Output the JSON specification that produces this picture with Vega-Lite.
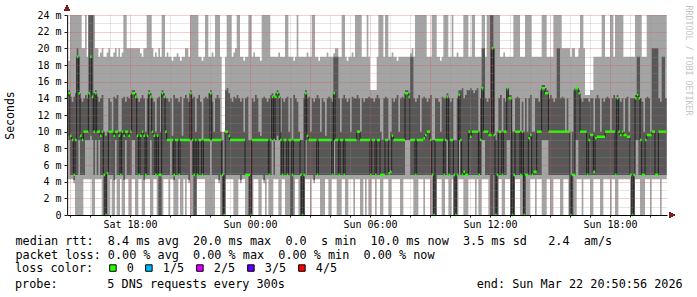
{
"$schema": "https://vega.github.io/schema/vega-lite/v6.json",
"width": 600,
"height": 200,
"autosize": {"type": "none"},
"padding": {"left": 67, "top": 15, "right": 30, "bottom": 82},
"background": "#ffffff",
"config": {
  "view": {"stroke": null},
  "axis": {"labelFont": "DejaVu Sans Mono", "titleFont": "DejaVu Sans Mono", "labelColor": "#000000", "titleColor": "#000000", "tickColor": "#1f1f1f", "domainColor": "#1f1f1f"}
},
"title": {
  "text": "probe:\u00a0\u00a0\u00a0\u00a0\u00a0\u00a0\u00a05 DNS requests every 300s\u00a0\u00a0\u00a0\u00a0\u00a0\u00a0\u00a0\u00a0\u00a0\u00a0\u00a0\u00a0\u00a0\u00a0\u00a0\u00a0\u00a0\u00a0\u00a0\u00a0\u00a0\u00a0\u00a0\u00a0\u00a0\u00a0\u00a0end: Sun Mar 22 20:50:56 2026",
  "orient": "bottom", "anchor": "start", "frame": "group", "dx": -52, "offset": 4,
  "font": "DejaVu Sans Mono", "fontSize": 11.8, "fontWeight": "normal", "color": "#000000", "baseline": "top"
},
"data": {"values": [
{"t":"2026-03-21T14:50Z","a":0,"b":9.5,"m":14.2,"d":14.6,"e":24},
{"t":"2026-03-21T14:55Z","a":4.3,"b":9,"m":14.6,"d":15,"e":18.5},
{"t":"2026-03-21T15:00Z","a":4.3,"b":4.8,"m":9.5,"d":14.2,"e":24},
{"t":"2026-03-21T15:05Z","a":4.3,"b":4.8,"m":9,"d":13.6,"e":24},
{"t":"2026-03-21T15:10Z","a":3.8,"b":4.2,"m":4.8,"d":14.2,"e":24},
{"t":"2026-03-21T15:15Z","a":0,"b":4.8,"m":9,"d":14.6,"e":24},
{"t":"2026-03-21T15:20Z","a":0,"b":4.8,"m":19,"d":20,"e":24},
{"t":"2026-03-21T15:25Z","a":0,"b":9,"m":14.6,"d":19,"e":24},
{"t":"2026-03-21T15:30Z","a":0,"b":4.8,"m":9.5,"d":14,"e":24},
{"t":"2026-03-21T15:35Z","a":0,"b":4.8,"m":9,"d":13.6,"e":20},
{"t":"2026-03-21T15:40Z","a":4.3,"b":4.8,"m":10,"d":14,"e":20},
{"t":"2026-03-21T15:45Z","a":4.3,"b":9,"m":10,"d":14.4,"e":24},
{"t":"2026-03-21T15:50Z","a":4.3,"b":9,"m":10,"d":14,"e":19},
{"t":"2026-03-21T15:55Z","a":4.3,"b":9,"m":14.6,"d":24,"e":24},
{"t":"2026-03-21T16:00Z","a":4.3,"b":9.5,"m":19,"d":24,"e":24},
{"t":"2026-03-21T16:05Z","a":0,"b":9,"m":14.2,"d":24,"e":24},
{"t":"2026-03-21T16:10Z","a":0,"b":4.8,"m":10,"d":14.6,"e":24},
{"t":"2026-03-21T16:15Z","a":4.3,"b":9,"m":14.6,"d":15,"e":20},
{"t":"2026-03-21T16:20Z","a":4.3,"b":4.8,"m":10,"d":14.2,"e":20},
{"t":"2026-03-21T16:25Z","a":4.3,"b":9,"m":10,"d":13.6,"e":19},
{"t":"2026-03-21T16:30Z","a":4.3,"b":4.8,"m":9.5,"d":14,"e":19.5},
{"t":"2026-03-21T16:35Z","a":0,"b":4.8,"m":10,"d":14.4,"e":20},
{"t":"2026-03-21T16:40Z","a":0,"b":0,"m":4.8,"d":10,"e":19},
{"t":"2026-03-21T16:45Z","a":0,"b":0,"m":0,"d":9.5,"e":19},
{"t":"2026-03-21T16:50Z","a":0,"b":4.8,"m":5,"d":10,"e":19.5},
{"t":"2026-03-21T16:55Z","a":0,"b":4.8,"m":10,"d":14,"e":20},
{"t":"2026-03-21T17:00Z","a":4.3,"b":4.8,"m":10,"d":13.6,"e":19},
{"t":"2026-03-21T17:05Z","a":0,"b":4.8,"m":10,"d":10,"e":19},
{"t":"2026-03-21T17:10Z","a":0,"b":4.2,"m":9.5,"d":14.2,"e":19.5},
{"t":"2026-03-21T17:15Z","a":4.3,"b":9,"m":10,"d":14,"e":20},
{"t":"2026-03-21T17:20Z","a":0,"b":4.8,"m":10,"d":14.4,"e":19},
{"t":"2026-03-21T17:25Z","a":0,"b":4.8,"m":9.5,"d":10,"e":20},
{"t":"2026-03-21T17:30Z","a":4.3,"b":4.8,"m":4.8,"d":10,"e":19},
{"t":"2026-03-21T17:35Z","a":0,"b":4.8,"m":10,"d":14,"e":19.5},
{"t":"2026-03-21T17:40Z","a":0,"b":4.2,"m":9.5,"d":14.2,"e":24},
{"t":"2026-03-21T17:45Z","a":4.3,"b":9,"m":10,"d":13.6,"e":24},
{"t":"2026-03-21T17:50Z","a":4.3,"b":4.8,"m":10,"d":14.2,"e":20},
{"t":"2026-03-21T17:55Z","a":0,"b":4.8,"m":9.5,"d":14,"e":20},
{"t":"2026-03-21T18:00Z","a":0,"b":4.8,"m":10,"d":14.4,"e":20},
{"t":"2026-03-21T18:05Z","a":4.3,"b":9,"m":14.6,"d":15,"e":20},
{"t":"2026-03-21T18:10Z","a":4.3,"b":9,"m":14.6,"d":15,"e":20},
{"t":"2026-03-21T18:15Z","a":0,"b":4.8,"m":14.2,"d":14.6,"e":20},
{"t":"2026-03-21T18:20Z","a":0,"b":4.8,"m":9.5,"d":14,"e":20},
{"t":"2026-03-21T18:25Z","a":4.3,"b":4.8,"m":4.8,"d":13.6,"e":20},
{"t":"2026-03-21T18:30Z","a":4.3,"b":4.8,"m":9.5,"d":14,"e":19.4},
{"t":"2026-03-21T18:35Z","a":0,"b":4.8,"m":10,"d":14.4,"e":19},
{"t":"2026-03-21T18:40Z","a":0,"b":4.2,"m":9.5,"d":14,"e":20},
{"t":"2026-03-21T18:45Z","a":4.3,"b":4.8,"m":4.8,"d":10,"e":20},
{"t":"2026-03-21T18:50Z","a":4.3,"b":4.8,"m":9.5,"d":14,"e":24},
{"t":"2026-03-21T18:55Z","a":4.3,"b":4.8,"m":14.6,"d":15,"e":24},
{"t":"2026-03-21T19:00Z","a":0,"b":9,"m":14.2,"d":14.6,"e":24},
{"t":"2026-03-21T19:05Z","a":0,"b":4.8,"m":10,"d":14,"e":20},
{"t":"2026-03-21T19:10Z","a":4.3,"b":4.8,"m":9.5,"d":13.6,"e":19},
{"t":"2026-03-21T19:15Z","a":4.3,"b":4.8,"m":4.8,"d":10,"e":19.5},
{"t":"2026-03-21T19:20Z","a":0,"b":4.8,"m":9.5,"d":14,"e":19},
{"t":"2026-03-21T19:25Z","a":0,"b":0,"m":4.8,"d":14.2,"e":20},
{"t":"2026-03-21T19:30Z","a":0,"b":0,"m":4.8,"d":10,"e":19},
{"t":"2026-03-21T19:35Z","a":0,"b":4.8,"m":14.6,"d":15,"e":24},
{"t":"2026-03-21T19:40Z","a":4.3,"b":4.8,"m":14.2,"d":14.6,"e":24},
{"t":"2026-03-21T19:45Z","a":4.3,"b":4.8,"m":10,"d":14,"e":19},
{"t":"2026-03-21T19:50Z","a":4.3,"b":4.8,"m":9,"d":14,"e":19.5},
{"t":"2026-03-21T19:55Z","a":0,"b":4.8,"m":9,"d":13.6,"e":19},
{"t":"2026-03-21T20:00Z","a":4.3,"b":9,"m":9,"d":14,"e":19},
{"t":"2026-03-21T20:05Z","a":4.3,"b":4.8,"m":9,"d":9.5,"e":18.5},
{"t":"2026-03-21T20:10Z","a":0,"b":4.2,"m":4.8,"d":14.4,"e":19},
{"t":"2026-03-21T20:15Z","a":0,"b":4.8,"m":9,"d":14,"e":19},
{"t":"2026-03-21T20:20Z","a":0,"b":4.8,"m":9,"d":14,"e":19.4},
{"t":"2026-03-21T20:25Z","a":4.3,"b":4.8,"m":4.8,"d":13.6,"e":19},
{"t":"2026-03-21T20:30Z","a":0,"b":4.8,"m":9,"d":14.2,"e":18.5},
{"t":"2026-03-21T20:35Z","a":0,"b":4.8,"m":9,"d":9.5,"e":19},
{"t":"2026-03-21T20:40Z","a":4.3,"b":4.8,"m":9,"d":14,"e":19},
{"t":"2026-03-21T20:45Z","a":0,"b":4.8,"m":9,"d":14.4,"e":20},
{"t":"2026-03-21T20:50Z","a":4.3,"b":4.8,"m":9,"d":14,"e":20},
{"t":"2026-03-21T20:55Z","a":3.8,"b":4.2,"m":9,"d":13.6,"e":19},
{"t":"2026-03-21T21:00Z","a":0,"b":9,"m":14.6,"d":15,"e":24},
{"t":"2026-03-21T21:05Z","a":0,"b":4.8,"m":9,"d":14,"e":24},
{"t":"2026-03-21T21:10Z","a":0,"b":0,"m":4.8,"d":14.2,"e":24},
{"t":"2026-03-21T21:15Z","a":0,"b":0,"m":9,"d":10,"e":24},
{"t":"2026-03-21T21:20Z","a":4.3,"b":4.8,"m":4.8,"d":14,"e":24},
{"t":"2026-03-21T21:25Z","a":4.3,"b":4.8,"m":9,"d":14.4,"e":19},
{"t":"2026-03-21T21:30Z","a":4.3,"b":4.8,"m":9,"d":13.6,"e":19},
{"t":"2026-03-21T21:35Z","a":4.3,"b":4.8,"m":4.8,"d":9,"e":18.5},
{"t":"2026-03-21T21:40Z","a":4.3,"b":4.8,"m":9,"d":14,"e":19},
{"t":"2026-03-21T21:45Z","a":0,"b":4.8,"m":9,"d":14.2,"e":24},
{"t":"2026-03-21T21:50Z","a":0,"b":4.8,"m":9,"d":14,"e":24},
{"t":"2026-03-21T21:55Z","a":0,"b":4.8,"m":9,"d":14.6,"e":19},
{"t":"2026-03-21T22:00Z","a":0,"b":9,"m":14.6,"d":15,"e":19},
{"t":"2026-03-21T22:05Z","a":0,"b":4.8,"m":9,"d":13.6,"e":19.5},
{"t":"2026-03-21T22:10Z","a":0,"b":4.8,"m":9,"d":10,"e":19},
{"t":"2026-03-21T22:15Z","a":4.3,"b":4.8,"m":9,"d":14,"e":24},
{"t":"2026-03-21T22:20Z","a":4.3,"b":4.8,"m":9,"d":14.4,"e":24},
{"t":"2026-03-21T22:25Z","a":3.8,"b":4.2,"m":9,"d":14,"e":24},
{"t":"2026-03-21T22:30Z","a":0,"b":4.8,"m":9,"d":10,"e":19},
{"t":"2026-03-21T22:35Z","a":0,"b":0,"m":4.8,"d":9,"e":10},
{"t":"2026-03-21T22:40Z","a":0,"b":0,"m":0,"d":4.8,"e":10},
{"t":"2026-03-21T22:45Z","a":4.3,"b":4.8,"m":10,"d":15,"e":19},
{"t":"2026-03-21T22:50Z","a":4.3,"b":4.8,"m":10,"d":15.2,"e":24},
{"t":"2026-03-21T22:55Z","a":4.3,"b":4.8,"m":9.5,"d":14.6,"e":24},
{"t":"2026-03-21T23:00Z","a":4.3,"b":4.8,"m":9,"d":14,"e":24},
{"t":"2026-03-21T23:05Z","a":4.3,"b":4.8,"m":9,"d":13.6,"e":19},
{"t":"2026-03-21T23:10Z","a":0,"b":4.8,"m":9,"d":14.2,"e":19.5},
{"t":"2026-03-21T23:15Z","a":0,"b":4.8,"m":9,"d":14,"e":20},
{"t":"2026-03-21T23:20Z","a":0,"b":4.8,"m":9,"d":14.4,"e":24},
{"t":"2026-03-21T23:25Z","a":4.3,"b":4.8,"m":9,"d":14,"e":24},
{"t":"2026-03-21T23:30Z","a":3.8,"b":4.2,"m":9,"d":13.6,"e":19},
{"t":"2026-03-21T23:35Z","a":4.3,"b":4.8,"m":9,"d":14,"e":19},
{"t":"2026-03-21T23:40Z","a":4.3,"b":4.8,"m":9,"d":10,"e":18.5},
{"t":"2026-03-21T23:45Z","a":0,"b":4.8,"m":4.8,"d":14,"e":19},
{"t":"2026-03-21T23:50Z","a":0,"b":4.8,"m":4.8,"d":14.2,"e":19},
{"t":"2026-03-21T23:55Z","a":0,"b":0,"m":4.8,"d":9,"e":24},
{"t":"2026-03-22T00:00Z","a":0,"b":0,"m":0,"d":9,"e":24},
{"t":"2026-03-22T00:05Z","a":0,"b":4.8,"m":9,"d":14,"e":19},
{"t":"2026-03-22T00:10Z","a":4.3,"b":4.8,"m":9,"d":13.6,"e":19.5},
{"t":"2026-03-22T00:15Z","a":4.3,"b":4.8,"m":9,"d":14.4,"e":19},
{"t":"2026-03-22T00:20Z","a":4.3,"b":4.8,"m":9,"d":14,"e":19},
{"t":"2026-03-22T00:25Z","a":0,"b":4.8,"m":9,"d":10,"e":19},
{"t":"2026-03-22T00:30Z","a":0,"b":4.8,"m":9,"d":9.5,"e":18.5},
{"t":"2026-03-22T00:35Z","a":4.3,"b":4.8,"m":9,"d":14,"e":24},
{"t":"2026-03-22T00:40Z","a":3.8,"b":4.2,"m":9,"d":14.2,"e":24},
{"t":"2026-03-22T00:45Z","a":0,"b":4.8,"m":9,"d":14,"e":24},
{"t":"2026-03-22T00:50Z","a":4.3,"b":4.8,"m":9,"d":13.6,"e":24},
{"t":"2026-03-22T00:55Z","a":0,"b":4.8,"m":4.8,"d":14,"e":24},
{"t":"2026-03-22T01:00Z","a":0,"b":4.8,"m":9,"d":14.4,"e":19},
{"t":"2026-03-22T01:05Z","a":0,"b":9,"m":14.2,"d":14.6,"e":19},
{"t":"2026-03-22T01:10Z","a":4.3,"b":4.8,"m":9,"d":14,"e":19},
{"t":"2026-03-22T01:15Z","a":4.3,"b":9,"m":14.2,"d":14.6,"e":19},
{"t":"2026-03-22T01:20Z","a":4.3,"b":9.5,"m":14.6,"d":15,"e":19},
{"t":"2026-03-22T01:25Z","a":0,"b":9,"m":14.2,"d":14.6,"e":19.5},
{"t":"2026-03-22T01:30Z","a":0,"b":4.8,"m":9,"d":10,"e":19},
{"t":"2026-03-22T01:35Z","a":4.3,"b":4.8,"m":4.8,"d":14,"e":19},
{"t":"2026-03-22T01:40Z","a":4.3,"b":4.8,"m":9,"d":13.6,"e":19},
{"t":"2026-03-22T01:45Z","a":0,"b":4.8,"m":9,"d":14,"e":24},
{"t":"2026-03-22T01:50Z","a":0,"b":4.8,"m":4.8,"d":14.2,"e":24},
{"t":"2026-03-22T01:55Z","a":0,"b":4.8,"m":9,"d":10,"e":19},
{"t":"2026-03-22T02:00Z","a":0,"b":0,"m":9,"d":14,"e":19},
{"t":"2026-03-22T02:05Z","a":0,"b":0,"m":4.8,"d":9,"e":19},
{"t":"2026-03-22T02:10Z","a":0,"b":4.8,"m":9,"d":14.4,"e":18.5},
{"t":"2026-03-22T02:15Z","a":4.3,"b":4.8,"m":9,"d":14,"e":19},
{"t":"2026-03-22T02:20Z","a":4.3,"b":4.8,"m":9,"d":13.6,"e":24},
{"t":"2026-03-22T02:25Z","a":0,"b":4.8,"m":9,"d":10,"e":19},
{"t":"2026-03-22T02:30Z","a":0,"b":0,"m":4.8,"d":9,"e":19},
{"t":"2026-03-22T02:35Z","a":0,"b":0,"m":0,"d":9,"e":19},
{"t":"2026-03-22T02:40Z","a":0,"b":0,"m":4.8,"d":14,"e":19},
{"t":"2026-03-22T02:45Z","a":4.3,"b":9,"m":14.6,"d":15,"e":19},
{"t":"2026-03-22T02:50Z","a":4.3,"b":4.8,"m":9.5,"d":14,"e":19.5},
{"t":"2026-03-22T02:55Z","a":4.3,"b":4.8,"m":9,"d":14.2,"e":19},
{"t":"2026-03-22T03:00Z","a":0,"b":4.8,"m":9,"d":10,"e":19},
{"t":"2026-03-22T03:05Z","a":4.3,"b":4.8,"m":9,"d":14,"e":24},
{"t":"2026-03-22T03:10Z","a":3.8,"b":4.2,"m":9,"d":13.6,"e":24},
{"t":"2026-03-22T03:15Z","a":4.3,"b":4.8,"m":9,"d":14,"e":19},
{"t":"2026-03-22T03:20Z","a":4.3,"b":4.8,"m":4.8,"d":14.4,"e":19},
{"t":"2026-03-22T03:25Z","a":4.3,"b":4.8,"m":9,"d":14,"e":18.5},
{"t":"2026-03-22T03:30Z","a":0,"b":4.8,"m":9,"d":10,"e":19},
{"t":"2026-03-22T03:35Z","a":0,"b":4.8,"m":9,"d":14,"e":19},
{"t":"2026-03-22T03:40Z","a":0,"b":4.8,"m":9,"d":13.6,"e":19},
{"t":"2026-03-22T03:45Z","a":4.3,"b":4.8,"m":9,"d":9.5,"e":19},
{"t":"2026-03-22T03:50Z","a":4.3,"b":4.8,"m":9,"d":14,"e":19.5},
{"t":"2026-03-22T03:55Z","a":0,"b":4.8,"m":9,"d":14.2,"e":19},
{"t":"2026-03-22T04:00Z","a":0,"b":4.8,"m":9,"d":14,"e":19},
{"t":"2026-03-22T04:05Z","a":4.3,"b":4.8,"m":4.8,"d":13.6,"e":19},
{"t":"2026-03-22T04:10Z","a":4.3,"b":9,"m":14.6,"d":19,"e":19.4},
{"t":"2026-03-22T04:15Z","a":4.3,"b":4.8,"m":9,"d":19,"e":20},
{"t":"2026-03-22T04:20Z","a":0,"b":4.8,"m":9,"d":19,"e":20},
{"t":"2026-03-22T04:25Z","a":0,"b":4.8,"m":4.8,"d":14,"e":19},
{"t":"2026-03-22T04:30Z","a":0,"b":4.8,"m":9,"d":10,"e":19},
{"t":"2026-03-22T04:35Z","a":4.3,"b":4.8,"m":9,"d":14,"e":24},
{"t":"2026-03-22T04:40Z","a":4.3,"b":4.8,"m":4.8,"d":14.4,"e":24},
{"t":"2026-03-22T04:45Z","a":0,"b":4.8,"m":9,"d":14,"e":19},
{"t":"2026-03-22T04:50Z","a":0,"b":4.8,"m":9,"d":13.6,"e":18.5},
{"t":"2026-03-22T04:55Z","a":4.3,"b":4.8,"m":9,"d":14,"e":19},
{"t":"2026-03-22T05:00Z","a":4.3,"b":4.8,"m":9,"d":10,"e":19},
{"t":"2026-03-22T05:05Z","a":4.3,"b":4.8,"m":9,"d":14.2,"e":19.5},
{"t":"2026-03-22T05:10Z","a":0,"b":4.8,"m":9,"d":14,"e":19},
{"t":"2026-03-22T05:15Z","a":4.3,"b":4.8,"m":9,"d":14,"e":24},
{"t":"2026-03-22T05:20Z","a":4.3,"b":4.8,"m":10,"d":14.4,"e":24},
{"t":"2026-03-22T05:25Z","a":4.3,"b":4.8,"m":10,"d":14,"e":24},
{"t":"2026-03-22T05:30Z","a":0,"b":4.8,"m":9,"d":10,"e":24},
{"t":"2026-03-22T05:35Z","a":0,"b":4.8,"m":9,"d":14,"e":19},
{"t":"2026-03-22T05:40Z","a":4.3,"b":4.8,"m":9,"d":13.6,"e":19},
{"t":"2026-03-22T05:45Z","a":0,"b":4.8,"m":9,"d":14,"e":19},
{"t":"2026-03-22T05:50Z","a":4.3,"b":4.8,"m":9,"d":14,"e":24},
{"t":"2026-03-22T05:55Z","a":0,"b":4.8,"m":9,"d":14.2,"e":19},
{"t":"2026-03-22T06:00Z","a":0,"b":4.8,"m":4.8,"d":14,"e":15},
{"t":"2026-03-22T06:05Z","a":4.3,"b":4.8,"m":9,"d":14,"e":15},
{"t":"2026-03-22T06:10Z","a":4.3,"b":4.8,"m":9,"d":13.6,"e":15},
{"t":"2026-03-22T06:15Z","a":0,"b":4.8,"m":4.8,"d":14,"e":15},
{"t":"2026-03-22T06:20Z","a":4.3,"b":4.8,"m":9,"d":14.4,"e":19},
{"t":"2026-03-22T06:25Z","a":4.3,"b":4.8,"m":9,"d":14,"e":24},
{"t":"2026-03-22T06:30Z","a":0,"b":4.8,"m":4.8,"d":10,"e":24},
{"t":"2026-03-22T06:35Z","a":0,"b":4.8,"m":4.8,"d":9,"e":24},
{"t":"2026-03-22T06:40Z","a":4.3,"b":4.8,"m":4.8,"d":14,"e":19},
{"t":"2026-03-22T06:45Z","a":4.3,"b":4.8,"m":9,"d":14.2,"e":24},
{"t":"2026-03-22T06:50Z","a":4.3,"b":4.8,"m":9,"d":14,"e":24},
{"t":"2026-03-22T06:55Z","a":0,"b":4.8,"m":5,"d":9,"e":19},
{"t":"2026-03-22T07:00Z","a":0,"b":4.8,"m":5.2,"d":10,"e":19},
{"t":"2026-03-22T07:05Z","a":4.3,"b":4.8,"m":9.5,"d":14,"e":19.5},
{"t":"2026-03-22T07:10Z","a":4.3,"b":4.8,"m":9,"d":13.6,"e":19},
{"t":"2026-03-22T07:15Z","a":4.3,"b":4.8,"m":9,"d":14,"e":19},
{"t":"2026-03-22T07:20Z","a":4.3,"b":4.8,"m":9,"d":14.4,"e":18.5},
{"t":"2026-03-22T07:25Z","a":4.3,"b":4.8,"m":9,"d":10,"e":19},
{"t":"2026-03-22T07:30Z","a":0,"b":4.8,"m":9,"d":14,"e":19},
{"t":"2026-03-22T07:35Z","a":0,"b":4.8,"m":9,"d":14.2,"e":19},
{"t":"2026-03-22T07:40Z","a":4.3,"b":4.8,"m":9,"d":14,"e":19},
{"t":"2026-03-22T07:45Z","a":4.3,"b":9,"m":14.6,"d":15,"e":19},
{"t":"2026-03-22T07:50Z","a":4.3,"b":9,"m":14.6,"d":15,"e":19},
{"t":"2026-03-22T07:55Z","a":4.3,"b":9,"m":14.2,"d":14.6,"e":19},
{"t":"2026-03-22T08:00Z","a":4.3,"b":4.8,"m":9,"d":19,"e":19.4},
{"t":"2026-03-22T08:05Z","a":4.3,"b":4.8,"m":9,"d":19,"e":20},
{"t":"2026-03-22T08:10Z","a":0,"b":4.8,"m":9,"d":14,"e":19},
{"t":"2026-03-22T08:15Z","a":0,"b":4.8,"m":4.8,"d":13.6,"e":24},
{"t":"2026-03-22T08:20Z","a":0,"b":4.8,"m":9,"d":14,"e":24},
{"t":"2026-03-22T08:25Z","a":4.3,"b":4.8,"m":9,"d":14.4,"e":24},
{"t":"2026-03-22T08:30Z","a":4.3,"b":4.8,"m":9,"d":10,"e":24},
{"t":"2026-03-22T08:35Z","a":4.3,"b":4.8,"m":9,"d":14,"e":24},
{"t":"2026-03-22T08:40Z","a":0,"b":4.8,"m":9.2,"d":14.2,"e":24},
{"t":"2026-03-22T08:45Z","a":4.3,"b":4.8,"m":9.6,"d":14,"e":24},
{"t":"2026-03-22T08:50Z","a":4.3,"b":4.8,"m":10,"d":13.6,"e":19},
{"t":"2026-03-22T08:55Z","a":4.3,"b":4.8,"m":10,"d":14,"e":19},
{"t":"2026-03-22T09:00Z","a":0,"b":4.8,"m":9,"d":14.4,"e":19},
{"t":"2026-03-22T09:05Z","a":0,"b":4.8,"m":4.8,"d":9,"e":24},
{"t":"2026-03-22T09:10Z","a":0,"b":0,"m":0,"d":9,"e":24},
{"t":"2026-03-22T09:15Z","a":0,"b":0,"m":9,"d":14,"e":24},
{"t":"2026-03-22T09:20Z","a":4.3,"b":4.8,"m":9,"d":14,"e":19},
{"t":"2026-03-22T09:25Z","a":4.3,"b":4.8,"m":9,"d":13.6,"e":19},
{"t":"2026-03-22T09:30Z","a":4.3,"b":4.8,"m":9,"d":10,"e":18.5},
{"t":"2026-03-22T09:35Z","a":0,"b":4.8,"m":9,"d":14.2,"e":19},
{"t":"2026-03-22T09:40Z","a":0,"b":4.8,"m":4.8,"d":14,"e":24},
{"t":"2026-03-22T09:45Z","a":4.3,"b":4.8,"m":9,"d":14,"e":24},
{"t":"2026-03-22T09:50Z","a":4.3,"b":9,"m":14.2,"d":14.6,"e":24},
{"t":"2026-03-22T09:55Z","a":0,"b":4.8,"m":4.8,"d":14,"e":19},
{"t":"2026-03-22T10:00Z","a":0,"b":4.8,"m":9,"d":13.6,"e":19},
{"t":"2026-03-22T10:05Z","a":4.3,"b":4.8,"m":9,"d":14,"e":24},
{"t":"2026-03-22T10:10Z","a":0,"b":0,"m":4.8,"d":9,"e":19},
{"t":"2026-03-22T10:15Z","a":0,"b":0,"m":0,"d":9,"e":19},
{"t":"2026-03-22T10:20Z","a":0,"b":4.8,"m":4.8,"d":14,"e":19.5},
{"t":"2026-03-22T10:25Z","a":4.3,"b":9,"m":14.4,"d":15,"e":19},
{"t":"2026-03-22T10:30Z","a":4.3,"b":4.8,"m":9,"d":15,"e":19},
{"t":"2026-03-22T10:35Z","a":4.3,"b":4.8,"m":4.8,"d":15.2,"e":19},
{"t":"2026-03-22T10:40Z","a":0,"b":4.8,"m":5.2,"d":14,"e":24},
{"t":"2026-03-22T10:45Z","a":0,"b":4.8,"m":4.8,"d":14.4,"e":24},
{"t":"2026-03-22T10:50Z","a":0,"b":4.8,"m":4.8,"d":15,"e":24},
{"t":"2026-03-22T10:55Z","a":4.3,"b":4.8,"m":10,"d":15,"e":19},
{"t":"2026-03-22T11:00Z","a":4.3,"b":4.8,"m":9.4,"d":15.2,"e":19},
{"t":"2026-03-22T11:05Z","a":4.3,"b":4.8,"m":10,"d":15,"e":24},
{"t":"2026-03-22T11:10Z","a":4.3,"b":4.8,"m":10,"d":14.6,"e":24},
{"t":"2026-03-22T11:15Z","a":0,"b":4.8,"m":10,"d":15,"e":19},
{"t":"2026-03-22T11:20Z","a":4.3,"b":4.8,"m":10,"d":15.2,"e":19},
{"t":"2026-03-22T11:25Z","a":0,"b":4.8,"m":4.8,"d":10,"e":19},
{"t":"2026-03-22T11:30Z","a":0,"b":4.8,"m":9,"d":14,"e":19},
{"t":"2026-03-22T11:35Z","a":4.3,"b":9,"m":15.2,"d":20,"e":24},
{"t":"2026-03-22T11:40Z","a":4.3,"b":9,"m":10,"d":20,"e":24},
{"t":"2026-03-22T11:45Z","a":4.3,"b":4.8,"m":10,"d":14,"e":19},
{"t":"2026-03-22T11:50Z","a":4.3,"b":4.8,"m":10,"d":13.6,"e":24},
{"t":"2026-03-22T11:55Z","a":0,"b":4.8,"m":9.6,"d":14,"e":24},
{"t":"2026-03-22T12:00Z","a":0,"b":0,"m":9.6,"d":24,"e":24},
{"t":"2026-03-22T12:05Z","a":0,"b":0,"m":20,"d":24,"e":24},
{"t":"2026-03-22T12:10Z","a":0,"b":4.8,"m":9.6,"d":20,"e":24},
{"t":"2026-03-22T12:15Z","a":0,"b":0,"m":0,"d":9,"e":24},
{"t":"2026-03-22T12:20Z","a":0,"b":0,"m":4.8,"d":10,"e":24},
{"t":"2026-03-22T12:25Z","a":4.3,"b":4.8,"m":10,"d":14,"e":24},
{"t":"2026-03-22T12:30Z","a":4.3,"b":4.8,"m":10,"d":14.4,"e":19},
{"t":"2026-03-22T12:35Z","a":0,"b":4.8,"m":4.8,"d":10,"e":19},
{"t":"2026-03-22T12:40Z","a":0,"b":4.8,"m":10,"d":14,"e":19.5},
{"t":"2026-03-22T12:45Z","a":4.3,"b":4.8,"m":10,"d":13.6,"e":19},
{"t":"2026-03-22T12:50Z","a":4.3,"b":9,"m":15.2,"d":15.2,"e":19},
{"t":"2026-03-22T12:55Z","a":4.3,"b":9,"m":14,"d":14.4,"e":19},
{"t":"2026-03-22T13:00Z","a":0,"b":0,"m":14,"d":14.4,"e":19},
{"t":"2026-03-22T13:05Z","a":0,"b":0,"m":0,"d":10,"e":19},
{"t":"2026-03-22T13:10Z","a":0,"b":0,"m":4.8,"d":10,"e":24},
{"t":"2026-03-22T13:15Z","a":4.3,"b":4.8,"m":10,"d":14,"e":24},
{"t":"2026-03-22T13:20Z","a":4.3,"b":4.8,"m":10,"d":14.2,"e":24},
{"t":"2026-03-22T13:25Z","a":4.3,"b":4.8,"m":10,"d":14,"e":24},
{"t":"2026-03-22T13:30Z","a":0,"b":4.8,"m":4.8,"d":10,"e":19},
{"t":"2026-03-22T13:35Z","a":0,"b":4.8,"m":10,"d":13.6,"e":19},
{"t":"2026-03-22T13:40Z","a":0,"b":0,"m":0,"d":10,"e":19},
{"t":"2026-03-22T13:45Z","a":0,"b":4.8,"m":4.8,"d":14,"e":24},
{"t":"2026-03-22T13:50Z","a":0,"b":4.8,"m":4.8,"d":10,"e":24},
{"t":"2026-03-22T13:55Z","a":0,"b":4.8,"m":9.2,"d":14,"e":24},
{"t":"2026-03-22T14:00Z","a":4.3,"b":4.8,"m":9.6,"d":14.4,"e":24},
{"t":"2026-03-22T14:05Z","a":4.3,"b":4.8,"m":4.8,"d":10,"e":19},
{"t":"2026-03-22T14:10Z","a":4.3,"b":4.8,"m":5.2,"d":10,"e":19},
{"t":"2026-03-22T14:15Z","a":0,"b":4.8,"m":5.2,"d":14,"e":19},
{"t":"2026-03-22T14:20Z","a":4.3,"b":4.8,"m":10,"d":14,"e":19},
{"t":"2026-03-22T14:25Z","a":4.3,"b":4.8,"m":10,"d":13.6,"e":19},
{"t":"2026-03-22T14:30Z","a":4.3,"b":4.8,"m":10,"d":15,"e":19},
{"t":"2026-03-22T14:35Z","a":0,"b":9,"m":15.2,"d":15.6,"e":24},
{"t":"2026-03-22T14:40Z","a":0,"b":9,"m":15.2,"d":15.6,"e":24},
{"t":"2026-03-22T14:45Z","a":0,"b":9,"m":14.6,"d":15.2,"e":24},
{"t":"2026-03-22T14:50Z","a":4.3,"b":9,"m":14.6,"d":15,"e":19},
{"t":"2026-03-22T14:55Z","a":4.3,"b":4.8,"m":10,"d":14,"e":19},
{"t":"2026-03-22T15:00Z","a":0,"b":4.8,"m":10,"d":14.4,"e":19},
{"t":"2026-03-22T15:05Z","a":0,"b":4.8,"m":10,"d":14,"e":19},
{"t":"2026-03-22T15:10Z","a":4.3,"b":4.8,"m":10,"d":13.6,"e":24},
{"t":"2026-03-22T15:15Z","a":4.3,"b":4.8,"m":10,"d":14,"e":24},
{"t":"2026-03-22T15:20Z","a":4.3,"b":4.8,"m":10,"d":20,"e":24},
{"t":"2026-03-22T15:25Z","a":4.3,"b":4.8,"m":10,"d":20,"e":24},
{"t":"2026-03-22T15:30Z","a":0,"b":4.8,"m":10,"d":14,"e":24},
{"t":"2026-03-22T15:35Z","a":0,"b":4.8,"m":10,"d":14.2,"e":20},
{"t":"2026-03-22T15:40Z","a":4.3,"b":4.8,"m":10,"d":14,"e":20},
{"t":"2026-03-22T15:45Z","a":4.3,"b":4.8,"m":10,"d":10,"e":20},
{"t":"2026-03-22T15:50Z","a":4.3,"b":4.8,"m":10,"d":14,"e":20},
{"t":"2026-03-22T15:55Z","a":0,"b":4.8,"m":10,"d":10,"e":20},
{"t":"2026-03-22T16:00Z","a":0,"b":0,"m":0,"d":4.8,"e":19},
{"t":"2026-03-22T16:05Z","a":0,"b":0,"m":4.8,"d":10,"e":20},
{"t":"2026-03-22T16:10Z","a":0,"b":4.8,"m":4.8,"d":15,"e":20},
{"t":"2026-03-22T16:15Z","a":0,"b":9,"m":15.2,"d":15.2,"e":19},
{"t":"2026-03-22T16:20Z","a":4.3,"b":9,"m":15.2,"d":15.2,"e":19},
{"t":"2026-03-22T16:25Z","a":4.3,"b":4.8,"m":14.6,"d":15,"e":20},
{"t":"2026-03-22T16:30Z","a":4.3,"b":4.8,"m":10,"d":14,"e":24},
{"t":"2026-03-22T16:35Z","a":0,"b":4.8,"m":10,"d":13.6,"e":24},
{"t":"2026-03-22T16:40Z","a":4.3,"b":4.8,"m":10,"d":14,"e":20},
{"t":"2026-03-22T16:45Z","a":4.3,"b":4.8,"m":10,"d":14,"e":14.4},
{"t":"2026-03-22T16:50Z","a":4.3,"b":4.8,"m":4.8,"d":14,"e":14.4},
{"t":"2026-03-22T16:55Z","a":4.3,"b":4.8,"m":9,"d":13.6,"e":14.4},
{"t":"2026-03-22T17:00Z","a":0,"b":4.8,"m":9.6,"d":14,"e":15},
{"t":"2026-03-22T17:05Z","a":0,"b":4.8,"m":9.6,"d":14,"e":15},
{"t":"2026-03-22T17:10Z","a":4.3,"b":4.8,"m":5.2,"d":10,"e":19},
{"t":"2026-03-22T17:15Z","a":4.3,"b":4.8,"m":9.2,"d":14,"e":19},
{"t":"2026-03-22T17:20Z","a":4.3,"b":4.8,"m":9.4,"d":14.4,"e":19},
{"t":"2026-03-22T17:25Z","a":4.3,"b":4.8,"m":9.4,"d":14,"e":19},
{"t":"2026-03-22T17:30Z","a":0,"b":4.8,"m":9.4,"d":10,"e":19},
{"t":"2026-03-22T17:35Z","a":0,"b":4.8,"m":9.4,"d":14,"e":24},
{"t":"2026-03-22T17:40Z","a":4.3,"b":4.8,"m":9.4,"d":13.6,"e":24},
{"t":"2026-03-22T17:45Z","a":4.3,"b":4.8,"m":10,"d":14,"e":19},
{"t":"2026-03-22T17:50Z","a":4.3,"b":4.8,"m":10,"d":14.2,"e":19},
{"t":"2026-03-22T17:55Z","a":4.3,"b":4.8,"m":10,"d":14,"e":19},
{"t":"2026-03-22T18:00Z","a":0,"b":4.8,"m":10,"d":10,"e":24},
{"t":"2026-03-22T18:05Z","a":4.3,"b":4.8,"m":10,"d":14,"e":24},
{"t":"2026-03-22T18:10Z","a":4.3,"b":4.8,"m":10,"d":14.4,"e":19},
{"t":"2026-03-22T18:15Z","a":0,"b":4.8,"m":4.8,"d":14,"e":24},
{"t":"2026-03-22T18:20Z","a":0,"b":4.8,"m":14,"d":14.4,"e":24},
{"t":"2026-03-22T18:25Z","a":4.3,"b":4.8,"m":10,"d":14,"e":24},
{"t":"2026-03-22T18:30Z","a":4.3,"b":4.8,"m":9.6,"d":13.6,"e":24},
{"t":"2026-03-22T18:35Z","a":4.3,"b":4.8,"m":10,"d":14,"e":24},
{"t":"2026-03-22T18:40Z","a":4.3,"b":4.8,"m":9.6,"d":10,"e":19},
{"t":"2026-03-22T18:45Z","a":4.3,"b":4.8,"m":9.6,"d":14,"e":19},
{"t":"2026-03-22T18:50Z","a":4.3,"b":4.8,"m":9.4,"d":14.2,"e":19},
{"t":"2026-03-22T18:55Z","a":4.3,"b":4.8,"m":9.4,"d":10,"e":19},
{"t":"2026-03-22T19:00Z","a":0,"b":4.8,"m":4.8,"d":14,"e":19},
{"t":"2026-03-22T19:05Z","a":0,"b":0,"m":0,"d":14,"e":19},
{"t":"2026-03-22T19:10Z","a":0,"b":0,"m":4.8,"d":14,"e":19},
{"t":"2026-03-22T19:15Z","a":4.3,"b":9,"m":14,"d":14.4,"e":24},
{"t":"2026-03-22T19:20Z","a":4.3,"b":9,"m":14.4,"d":19,"e":24},
{"t":"2026-03-22T19:25Z","a":4.3,"b":4.8,"m":14,"d":19,"e":24},
{"t":"2026-03-22T19:30Z","a":0,"b":4.8,"m":9,"d":14,"e":24},
{"t":"2026-03-22T19:35Z","a":0,"b":4.8,"m":4.8,"d":13.6,"e":19},
{"t":"2026-03-22T19:40Z","a":0,"b":4.8,"m":4.8,"d":10,"e":19},
{"t":"2026-03-22T19:45Z","a":4.3,"b":4.8,"m":9,"d":14,"e":19},
{"t":"2026-03-22T19:50Z","a":4.3,"b":4.8,"m":9.6,"d":14.2,"e":24},
{"t":"2026-03-22T19:55Z","a":4.3,"b":4.8,"m":9.6,"d":14,"e":24},
{"t":"2026-03-22T20:00Z","a":0,"b":4.8,"m":9.6,"d":10,"e":24},
{"t":"2026-03-22T20:05Z","a":4.3,"b":4.8,"m":10,"d":20,"e":24},
{"t":"2026-03-22T20:10Z","a":4.3,"b":4.8,"m":10,"d":20,"e":24},
{"t":"2026-03-22T20:15Z","a":4.3,"b":4.8,"m":4.8,"d":20,"e":24},
{"t":"2026-03-22T20:20Z","a":4.3,"b":4.8,"m":4.8,"d":20,"e":24},
{"t":"2026-03-22T20:25Z","a":4.3,"b":4.8,"m":10,"d":14,"e":24},
{"t":"2026-03-22T20:30Z","a":0,"b":4.8,"m":10,"d":13.6,"e":24},
{"t":"2026-03-22T20:35Z","a":4.3,"b":4.8,"m":10,"d":19,"e":24},
{"t":"2026-03-22T20:40Z","a":4.3,"b":4.8,"m":10,"d":19,"e":24},
{"t":"2026-03-22T20:45Z","a":4.3,"b":4.8,"m":10,"d":14,"e":24},
{"t":"2026-03-22T20:50Z","a":4.3,"b":4.8,"m":10,"d":14,"e":24}
]},
"encoding": {
  "x": {
    "field": "t", "type": "temporal",
    "scale": {"type": "utc", "domain": [1774104656000, 1774212656000], "nice": false},
    "axis": {
      "orient": "bottom",
      "title": ["median rtt:\u00a0\u00a08.4 ms avg\u00a0\u00a020.0 ms max\u00a0\u00a00.0\u00a0\u00a0s min\u00a0\u00a010.0 ms now\u00a0\u00a03.5 ms sd\u00a0\u00a0\u00a02.4\u00a0\u00a0am/s", "packet loss: 0.00 % avg\u00a0\u00a00.00 % max\u00a0\u00a00.00 % min\u00a0\u00a00.00 % now"],
      "titleFont": "DejaVu Sans Mono", "titleFontSize": 11.8, "titleFontWeight": "normal", "titleColor": "#000000",
      "titleX": -52, "titleY": 20, "titleAlign": "left", "titleAnchor": "start", "titleBaseline": "top", "titleLineHeight": 14.6, "titleAngle": 0,
      "values": [1774105200000,1774108800000,1774112400000,1774116000000,1774119600000,1774123200000,1774126800000,1774130400000,1774134000000,1774137600000,1774141200000,1774144800000,1774148400000,1774152000000,1774155600000,1774159200000,1774162800000,1774166400000,1774170000000,1774173600000,1774177200000,1774180800000,1774184400000,1774188000000,1774191600000,1774195200000,1774198800000,1774202400000,1774206000000,1774209600000],
      "format": "%a %H:%M",
      "labelExpr": "utchours(datum.value) % 6 === 0 ? datum.label : ''",
      "labelFont": "DejaVu Sans Mono", "labelFontSize": 10, "labelPadding": 2, "labelOverlap": false, "labelFlush": false,
      "tickSize": 2,
      "grid": true,
      "gridColor": {"condition": {"test": "utchours(datum.value) % 3 === 0", "value": "#de4f4f"}, "value": "#8f8f8f"},
      "gridOpacity": {"condition": {"test": "utchours(datum.value) % 3 === 0", "value": 0.55}, "value": 0.45},
      "gridDash": [1, 1],
      "domainColor": "#000000",
      "zindex": 1
    }
  }
},
"layer": [
  {
    "mark": {"type": "area", "interpolate": "step-after", "color": "#a4a4a4", "opacity": 1, "clip": true},
    "encoding": {
      "y": {
        "field": "a", "type": "quantitative",
        "scale": {"domain": [0, 24], "nice": false},
        "axis": {
          "orient": "left",
          "title": "Seconds", "titleFontSize": 11.5, "titleFontWeight": "normal", "titlePadding": 21,
          "values": [0,1,2,3,4,5,6,7,8,9,10,11,12,13,14,15,16,17,18,19,20,21,22,23,24],
          "labelExpr": "datum.value % 2 ? '' : (datum.value === 0 ? '0\u00a0\u00a0' : datum.value + ' m')",
          "labelFontSize": 10, "labelPadding": 3, "labelOverlap": false, "labelFlush": false,
          "tickSize": 3,
          "tickOpacity": {"condition": {"test": "datum.value % 2 === 0", "value": 1}, "value": 0},
          "grid": true,
          "gridColor": {"condition": {"test": "datum.value % 2 === 0", "value": "#de4f4f"}, "value": "#8f8f8f"},
          "gridOpacity": {"condition": {"test": "datum.value % 2 === 0", "value": 0.55}, "value": 0.45},
          "gridDash": [1, 1],
          "domainColor": "#1f1f1f",
          "zindex": 1
        }
      },
      "y2": {"field": "e"}
    }
  },
  {
    "mark": {"type": "area", "interpolate": "step-after", "color": "#585858", "opacity": 1, "clip": true},
    "encoding": {
      "y": {"field": "b", "type": "quantitative", "axis": null},
      "y2": {"field": "d"}
    }
  },
  {
    "mark": {"type": "line", "interpolate": "step-after", "color": "#202020", "strokeWidth": 1, "clip": true},
    "encoding": {
      "y": {"field": "m", "type": "quantitative", "axis": null}
    }
  },
  {
    "mark": {"type": "area", "interpolate": "step-after", "yOffset": -1.25, "y2Offset": 1.25, "opacity": 1, "clip": false},
    "encoding": {
      "y": {
        "field": "m", "type": "quantitative",
        "axis": {
          "orient": "right", "title": "RRDTOOL / TOBI OETIKER",
          "labels": false, "ticks": false, "domain": false, "grid": false,
          "titleAngle": 90, "titleFontSize": 8.3, "titleFontWeight": "normal", "titleColor": "#c4c4c4",
          "titleX": 20, "titleY": -10, "titleAlign": "left", "titleBaseline": "middle"
        }
      },
      "y2": {"field": "m"},
      "color": {
        "datum": "0",
        "scale": {"domain": ["0", "1/5", "2/5", "3/5", "4/5"], "range": ["#26ff00", "#00b8ff", "#dd00ff", "#5e00ff", "#ff0000"]},
        "legend": {
          "title": "loss color:", "orient": "none", "legendX": -52, "legendY": 247,
          "direction": "horizontal", "titleOrient": "left",
          "titleFont": "DejaVu Sans Mono", "titleFontSize": 11.8, "titleFontWeight": "normal", "titleColor": "#000000", "titlePadding": 13,
          "labelFont": "DejaVu Sans Mono", "labelFontSize": 11.8, "labelColor": "#000000", "labelOffset": 8,
          "symbolType": "square", "symbolSize": 42, "symbolStrokeColor": "#000000", "symbolStrokeWidth": 1, "symbolOpacity": 1,
          "columnPadding": 9, "padding": 0
        }
      }
    }
  },
  {
    "mark": {"type": "point", "shape": "triangle-up", "filled": true, "color": "#801f1f", "size": 28, "opacity": 1, "yOffset": -7, "clip": false},
    "encoding": {
      "x": {"datum": 1774104656000, "type": "temporal"},
      "y": {"datum": 24, "type": "quantitative", "axis": null}
    }
  },
  {
    "mark": {"type": "point", "shape": "triangle-right", "filled": true, "color": "#801f1f", "size": 28, "opacity": 1, "xOffset": 5, "clip": false},
    "encoding": {
      "x": {"datum": 1774212656000, "type": "temporal"},
      "y": {"datum": 0, "type": "quantitative", "axis": null}
    }
  }
]
}
